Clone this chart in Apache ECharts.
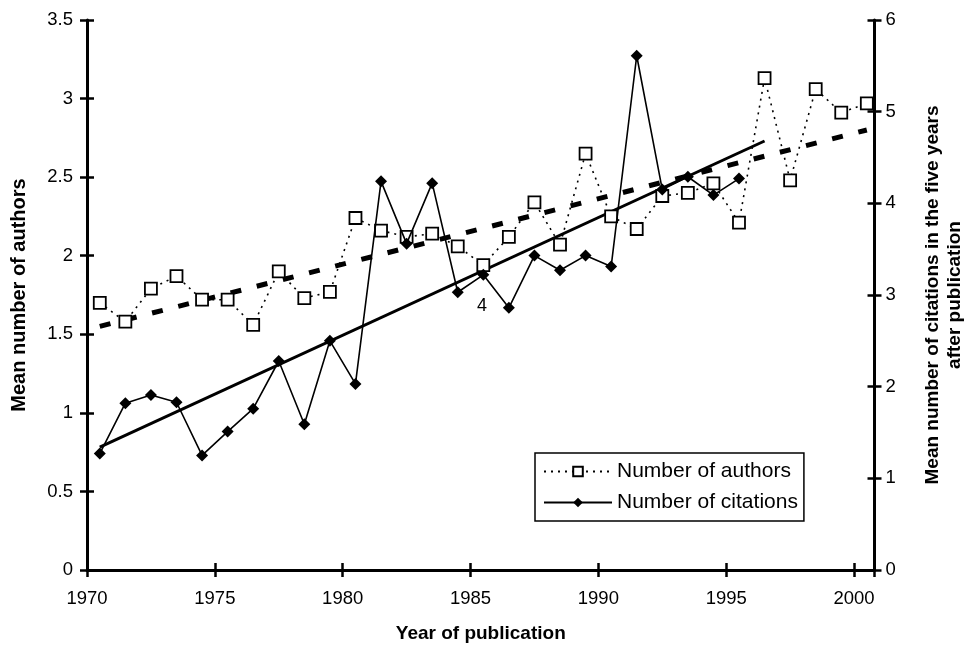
<!DOCTYPE html>
<html>
<head>
<meta charset="utf-8">
<script src="https://cdn.jsdelivr.net/npm/echarts@6/dist/echarts.min.js"></script>
<style>
  html, body { margin: 0; padding: 0; background: #fff; }
  #main { width: 973px; height: 649px; }
</style>
</head>
<body>
<div id="main"></div>
<script>
// years of publication (category centres sit half a year right of the tick)
const years = [1970, 1971, 1972, 1973, 1974, 1975, 1976, 1977, 1978, 1979,
  1980, 1981, 1982, 1983, 1984, 1985, 1986, 1987, 1988, 1989,
  1990, 1991, 1992, 1993, 1994, 1995, 1996, 1997, 1998, 1999, 2000];
// mean number of authors (left axis)
const authors = [1.70, 1.58, 1.79, 1.87, 1.72, 1.72, 1.56, 1.90, 1.73, 1.77,
  2.24, 2.16, 2.12, 2.14, 2.06, 1.94, 2.12, 2.34, 2.07, 2.65,
  2.25, 2.17, 2.38, 2.40, 2.46, 2.21, 3.13, 2.48, 3.06, 2.91, 2.97];
// mean citations in five years after publication (right axis), 1970-1995
const citations = [1.27, 1.82, 1.91, 1.83, 1.25, 1.51, 1.76, 2.28, 1.59, 2.50,
  2.03, 4.24, 3.56, 4.22, 3.03, 3.22, 2.86, 3.43, 3.27, 3.43,
  3.31, 5.61, 4.15, 4.29, 4.09, 4.27];
// trend line end points
const authorsTrendYears = [1970, 2000];
const authorsTrend = [1.55, 2.80];
const citationsTrendYears = [1970, 1996];
const citationsTrend = [1.34, 4.68];

const leftTicks = { min: 0, max: 3.5, interval: 0.5 };
const rightTicks = { min: 0, max: 6, interval: 1 };

const pts = (xs, ys) => ys.map((v, i) => [xs[i] + 0.5, v]);

const font = 'Liberation Sans, Arial, sans-serif';
const chart = echarts.init(document.getElementById('main'));

const axisLine = { show: true, lineStyle: { color: '#000', width: 3 } };
const tickOut = { show: true, inside: false, length: 7, lineStyle: { color: '#000', width: 2.5 } };
const tickIn = { show: true, inside: true, length: 7, lineStyle: { color: '#000', width: 2.5 } };

let option = {
  animation: false,
  backgroundColor: '#fff',
  textStyle: { fontFamily: font },
  grid: { left: 87, right: 98.5, top: 20, bottom: 79, containLabel: false, outerBoundsMode: 'none' },
  legend: {
    data: ['Number of authors', 'Number of citations'],
    orient: 'vertical',
    left: 535,
    top: 453,
    itemWidth: 68,
    itemHeight: 12,
    itemGap: 10,
    padding: [8, 6, 8, 8],
    borderColor: '#000',
    borderWidth: 1.5,
    backgroundColor: '#fff',
    textStyle: { fontFamily: font, fontSize: 21, color: '#000', padding: [0, 0, 0, 0] }
  },
  xAxis: [
    {
      type: 'value', min: 1970, max: 2000.8, interval: 5,
      name: 'Year of publication', nameLocation: 'middle', nameGap: 54,
      nameTextStyle: { fontFamily: font, fontSize: 19, fontWeight: 'bold', color: '#000' },
      axisLine: axisLine, axisTick: tickOut, splitLine: { show: false },
      axisLabel: {
        fontFamily: font, fontSize: 18.5, color: '#000', margin: 19,
        formatter: v => (v % 5 === 0 ? String(v) : '')
      }
    },
    {
      type: 'value', min: 1970, max: 2000.8, interval: 5, position: 'bottom',
      axisLine: { show: false }, axisTick: tickIn, axisLabel: { show: false }, splitLine: { show: false }
    }
  ],
  yAxis: [
    Object.assign({
      type: 'value', position: 'left',
      name: 'Mean number of authors', nameLocation: 'middle', nameGap: 58, nameRotate: 90,
      nameTextStyle: { fontFamily: font, fontSize: 20, fontWeight: 'bold', color: '#000' },
      axisLine: axisLine, axisTick: tickOut, splitLine: { show: false },
      axisLabel: { fontFamily: font, fontSize: 18.5, color: '#000', margin: 14 }
    }, leftTicks),
    Object.assign({
      type: 'value', position: 'right',
      name: 'Mean number of citations in the five years\nafter publication',
      nameLocation: 'middle', nameGap: 47, nameRotate: 90,
      nameTextStyle: { fontFamily: font, fontSize: 19, fontWeight: 'bold', color: '#000', lineHeight: 22 },
      axisLine: axisLine, axisTick: tickOut, splitLine: { show: false },
      axisLabel: { fontFamily: font, fontSize: 18.5, color: '#000', margin: 11 }
    }, rightTicks),
    Object.assign({
      type: 'value', position: 'left',
      axisLine: { show: false }, axisTick: tickIn, axisLabel: { show: false }, splitLine: { show: false }
    }, leftTicks),
    Object.assign({
      type: 'value', position: 'right',
      axisLine: { show: false }, axisTick: tickIn, axisLabel: { show: false }, splitLine: { show: false }
    }, rightTicks)
  ],
  graphic: [
    { type: 'text', left: 477, top: 297, style: { text: '4', fontFamily: font, fontSize: 18, fill: '#000' } }
  ],
  series: [
    {
      name: 'authors trend', type: 'line', yAxisIndex: 0, symbol: 'none', silent: true,
      data: pts(authorsTrendYears, authorsTrend),
      lineStyle: { color: '#000', width: 5, type: [11, 16] }, z: 1
    },
    {
      name: 'citations trend', type: 'line', yAxisIndex: 1, symbol: 'none', silent: true,
      data: pts(citationsTrendYears, citationsTrend),
      lineStyle: { color: '#000', width: 3 }, z: 1
    },
    {
      name: 'Number of authors', type: 'line', yAxisIndex: 0,
      data: pts(years, authors),
      symbol: 'rect', symbolSize: 12,
      lineStyle: { color: '#000', width: 1.6, type: [2, 5] },
      itemStyle: { color: '#fff', borderColor: '#000', borderWidth: 1.8 },
      z: 3
    },
    {
      name: 'Number of citations', type: 'line', yAxisIndex: 1,
      data: pts(years, citations),
      symbol: 'diamond', symbolSize: 12,
      lineStyle: { color: '#000', width: 1.6 },
      itemStyle: { color: '#000' },
      z: 4
    }
  ]
};
chart.setOption(option);
</script>
</body>
</html>
